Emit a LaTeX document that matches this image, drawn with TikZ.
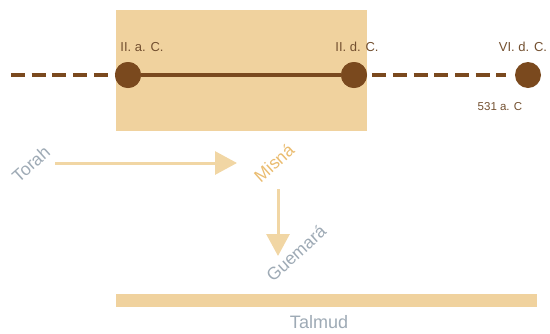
\documentclass[tikz,border=0pt]{standalone}
\usepackage{fontspec}
\setmainfont{Liberation Sans}
\usetikzlibrary{arrows.meta}
\definecolor{tan}{RGB}{240,210,158}
\definecolor{tanarrow}{RGB}{241,214,164}
\definecolor{brownline}{RGB}{122,73,30}
\definecolor{brownlabel}{RGB}{115,80,48}
\definecolor{graytext}{RGB}{158,170,181}
\definecolor{misnatext}{RGB}{234,188,112}
\tikzset{
  dot/.style={circle, fill=brownline, minimum size=26pt, inner sep=0pt},
  tlsolid/.style={draw=brownline, line width=4.3pt},
  tldash/.style={draw=brownline, line width=4.8pt, dash pattern=on 14pt off 6.7pt},
  datelabel/.style={text=brownlabel, font=\fontsize{13}{15}\selectfont, inner sep=0pt},
  concept/.style={font=\fontsize{17.5}{20}\selectfont, inner sep=0pt, rotate=42},
  arr/.style={draw=tanarrow, line width=3pt, -{Triangle[length=22pt, width=23pt]}},
}
\begin{document}
\begin{tikzpicture}[x=1pt, y=-1pt]
\useasboundingbox (0,0) rectangle (550,333);
% highlighted period
\fill[tan] (116,10) rectangle (367,131);
% timeline
\coordinate (start) at (11,75);
\node[dot] (c1) at (128,75) {};
\node[dot] (c2) at (354,75) {};
\node[dot] (c3) at (528,75) {};
\draw[tldash] (start) -- (c1.center);
\draw[tlsolid] (c1) -- (c2);
\draw[tldash] ([xshift=5pt]c2.east) -- ([xshift=-9pt]c3.west);
\node[dot] at (c1) {};
\node[dot] at (c2) {};
% date labels
\node[datelabel] (l1) at (142,47) {II. a. C.};
\node[datelabel] (l2) at (357,47) {II. d. C.};
\node[datelabel] (l3) at (523,47) {VI. d. C.};
\node[datelabel, font=\fontsize{11.5}{13}\selectfont] (l4) at (500,107) {531 a. C};
% concepts
\node[concept, text=graytext] (torah) at (31,164) {Torah};
\node[concept, text=misnatext] (misna) at (274,163) {Misná};
\node[concept, text=graytext] (guem) at (296,253) {Guemará};
\draw[arr] ([xshift=24pt, yshift=1pt]torah.center) -- ([xshift=-37pt]misna.center);
\draw[arr] ([xshift=4pt, yshift=-26pt]misna.center) -- ([xshift=-18pt, yshift=-3pt]guem.center);
% Talmud
\fill[tan] (116,294) rectangle (537,307);
\node[font=\fontsize{18}{21}\selectfont, text=graytext, inner sep=0pt] (talmud) at (319,322) {Talmud};
\end{tikzpicture}
\end{document}
